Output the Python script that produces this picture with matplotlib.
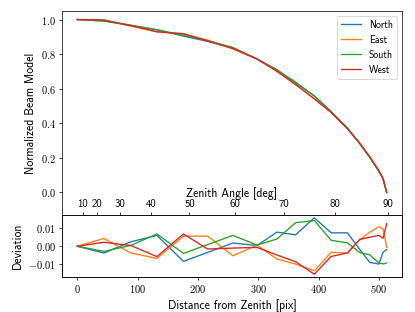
import matplotlib
matplotlib.use("Agg")
import matplotlib.pyplot as plt
from matplotlib.ticker import FuncFormatter
import numpy as np

plt.rcParams['font.family'] = ['cmss10', 'DejaVu Sans']
plt.rcParams['mathtext.fontset'] = 'cm'
plt.rcParams['axes.unicode_minus'] = True

# Distance from zenith [pix]
distance = [0, 44, 89, 132, 176, 216, 258, 298, 331, 362, 393, 421, 448, 468, 485, 500, 507, 513]

# Mean normalized beam model
beam_mean = [1.000, 0.995, 0.965, 0.935, 0.912, 0.877, 0.834, 0.772, 0.705, 0.630,
             0.550, 0.465, 0.370, 0.285, 0.205, 0.125, 0.080, 0.000]

# Relative deviations from the mean, per direction
dev_north = [0.0, -0.0037, 0.0025, 0.0060, -0.0083, -0.0034, 0.0018, 0.0004, 0.0078, 0.0063,
             0.0157, 0.0074, 0.0074, -0.0016, -0.0089, -0.0098, -0.0033, -0.0018]
dev_east = [0.0, 0.0043, -0.0037, -0.0067, 0.0056, 0.0056, -0.0052, 0.0006, -0.0070, -0.0098,
            -0.0135, -0.0033, -0.0037, 0.0035, 0.0078, 0.0108, 0.0096, -0.0006]
dev_south = [0.0, -0.0028, 0.0005, 0.0068, -0.0039, 0.0009, 0.0060, 0.0007, 0.0040, 0.0130,
             0.0142, 0.0033, 0.0019, -0.0034, -0.0047, -0.0092, -0.0097, -0.0092]
dev_west = [0.0, 0.0022, 0.0004, -0.0057, 0.0068, -0.0015, -0.0010, -0.0006, -0.0048, -0.0085,
            -0.0154, -0.0056, -0.0037, 0.0037, 0.0050, 0.0060, 0.0044, 0.0124]

directions = ['North', 'East', 'South', 'West']
deviations = [dev_north, dev_east, dev_south, dev_west]
colors = ['#1f77b4', '#ff7f0e', '#2ca02c', '#d62728']

# Zenith angle ticks and their distance positions
zenith_labels = [10, 20, 30, 40, 50, 60, 70, 80, 90]
zenith_positions = [9, 32, 70, 123, 186, 261, 342, 428, 515]

TICK = 11.5
LABEL = 13

fig = plt.figure(figsize=(415 / 65, 312 / 65), dpi=65)
ax1 = fig.add_axes([0.149, 0.311, 0.82, 0.654])
ax2 = fig.add_axes([0.149, 0.112, 0.82, 0.199], sharex=ax1)

mathfmt1 = FuncFormatter(lambda v, p: r'$%.1f$' % v)
mathfmt2 = FuncFormatter(lambda v, p: r'$%.2f$' % v if abs(v) > 1e-12 else r'$0.00$')
mathfmt0 = FuncFormatter(lambda v, p: r'$%d$' % v)

bm = np.array(beam_mean)
for name, dev, c in zip(directions, deviations, colors):
    ax1.plot(distance, bm * (1 + np.array(dev)), color=c, label=name, lw=1.5)
    ax2.plot(distance, dev, color=c, lw=1.5)

ax1.set_ylim(-0.13, 1.05)
ax1.set_yticks([0.0, 0.2, 0.4, 0.6, 0.8, 1.0])
ax1.yaxis.set_major_formatter(mathfmt1)
ax1.tick_params(axis='x', which='both', bottom=False, labelbottom=False)
ax1.tick_params(axis='y', labelsize=TICK)
ax1.set_ylabel('Normalized Beam Model', fontsize=LABEL)
ax1.legend(loc='upper right', fontsize=11)

ax2.set_yticks([-0.01, 0.0, 0.01])
ax2.yaxis.set_major_formatter(mathfmt2)
ax2.set_xticks([0, 100, 200, 300, 400, 500])
ax2.xaxis.set_major_formatter(mathfmt0)
ax2.tick_params(axis='both', labelsize=TICK)
ax2.set_ylabel('Deviation', fontsize=LABEL)
ax2.set_xlabel('Distance from Zenith [pix]', fontsize=LABEL)

ax3 = ax2.twiny()
ax3.set_xlim(ax2.get_xlim())
ax3.set_xticks(zenith_positions)
ax3.set_xticklabels([str(z) for z in zenith_labels])
ax3.set_xlabel('Zenith Angle [deg]', fontsize=LABEL, labelpad=2)
ax3.tick_params(axis='x', labelsize=12)

fig.savefig('out.png', dpi=65)
